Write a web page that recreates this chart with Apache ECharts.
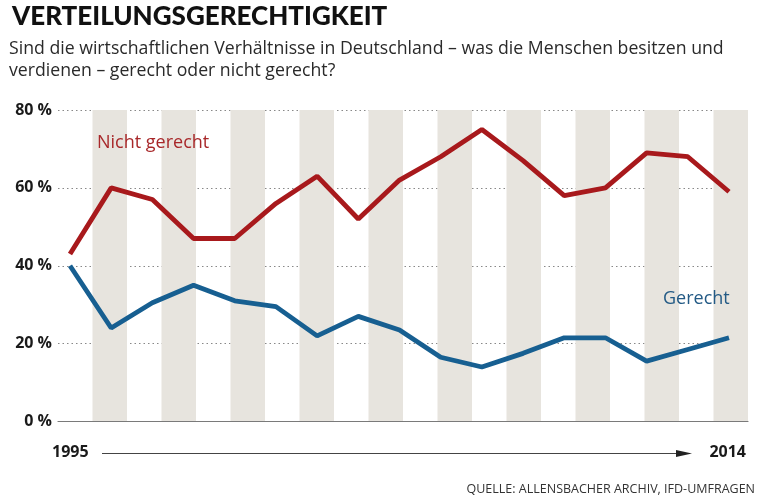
<!DOCTYPE html>
<html><head><meta charset="utf-8">
<script src="https://cdn.jsdelivr.net/npm/echarts@6/dist/echarts.min.js"></script>
<style>html,body{margin:0;padding:0;background:#fff}#c{width:759px;height:502px}</style>
</head><body><div id="c"></div>
<script>
const surveyIndex = [0,1,2,3,4,5,6,7,8,9,10,11,12,13,14,15,16];
const nichtGerecht = [43,60,57,47,47,56,63,52,62,68,75,67,58,60,69,68,59];
const gerecht = [40,24,30.5,35,31,29.5,22,27,23.5,16.5,14,17.5,21.5,21.5,15.5,18.5,21.5];
const yTicks = [0,20,40,60,80];
const startYear = '1995', endYear = '2014';

const chart = echarts.init(document.getElementById('c'), null, {renderer:'canvas'});
const gl = 58, gw = 690, gt = 110, gh = 311.5;
// hidden axis that places the 17 survey points from first to last year band
const p0 = 12, p1 = 671;
const R = (surveyIndex.length-1)/((p1-p0)/gw);
const xmin = -p0/gw*R, xmax = xmin + R;
const sans = '"Open Sans", sans-serif';
chart.setOption({
  animation:false,
  grid:{left:gl, top:gt, width:gw, height:gh},
  xAxis:[
    {type:'value', min:0, max:20, interval:1, axisLabel:{show:false}, axisTick:{show:false},
     axisLine:{show:true, lineStyle:{color:'#7a7a7a', width:1.2}}, splitLine:{show:false},
     splitArea:{show:true, areaStyle:{color:['rgba(255,255,255,0)','#e7e4de']}}},
    {type:'value', min:xmin, max:xmax, show:false}
  ],
  yAxis:{type:'value', min:yTicks[0], max:yTicks[yTicks.length-1], interval:20,
    axisLine:{show:false}, axisTick:{show:false},
    axisLabel:{formatter:'{value} %', fontFamily:sans, fontWeight:'bold', fontSize:16, color:'#1a1a1a', margin:6},
    splitLine:{show:true, lineStyle:{type:[1.5,3], color:'#888', width:1}}},
  series:[
    {type:'line', xAxisIndex:1, data:surveyIndex.map((x,i)=>[x,nichtGerecht[i]]), showSymbol:false,
     lineStyle:{color:'#a8191c', width:4.8}, z:5},
    {type:'line', xAxisIndex:1, data:surveyIndex.map((x,i)=>[x,gerecht[i]]), showSymbol:false,
     lineStyle:{color:'#175f91', width:4.8}, z:5}
  ],
  graphic:[
    {type:'text', left:12, top:4, style:{text:'VERTEILUNGSGERECHTIGKEIT', font:'900 26px Lato, "Open Sans", sans-serif', fill:'#111'}},
    {type:'text', x:9, y:38, scaleX:0.982, style:{text:'Sind die wirtschaftlichen Verhältnisse in Deutschland – was die Menschen besitzen und\nverdienen – gerecht oder nicht gerecht?', font:'18px '+sans, lineHeight:22, fill:'#2a2a2a'}},
    {type:'text', left:97, top:134, style:{text:'Nicht gerecht', font:'18px '+sans, fill:'#a8282a'}, z:10},
    {type:'text', left:663, top:290, style:{text:'Gerecht', font:'18px '+sans, fill:'#235a85'}, z:10},
    {type:'text', left:52, top:444, style:{text:startYear, font:'bold 16px '+sans, fill:'#1a1a1a'}},
    {type:'text', right:13, top:444, style:{text:endYear, font:'bold 16px '+sans, fill:'#1a1a1a'}},
    {type:'line', shape:{x1:102, y1:453.5, x2:680, y2:453.5}, style:{stroke:'#444', lineWidth:1}},
    {type:'polygon', shape:{points:[[676,450],[692,453.5],[676,457]]}, style:{fill:'#222'}},
    {type:'text', right:4, top:483, style:{text:'QUELLE: ALLENSBACHER ARCHIV, IFD-UMFRAGEN', font:'12.5px '+sans, fill:'#333'}}
  ]
});
</script></body></html>
